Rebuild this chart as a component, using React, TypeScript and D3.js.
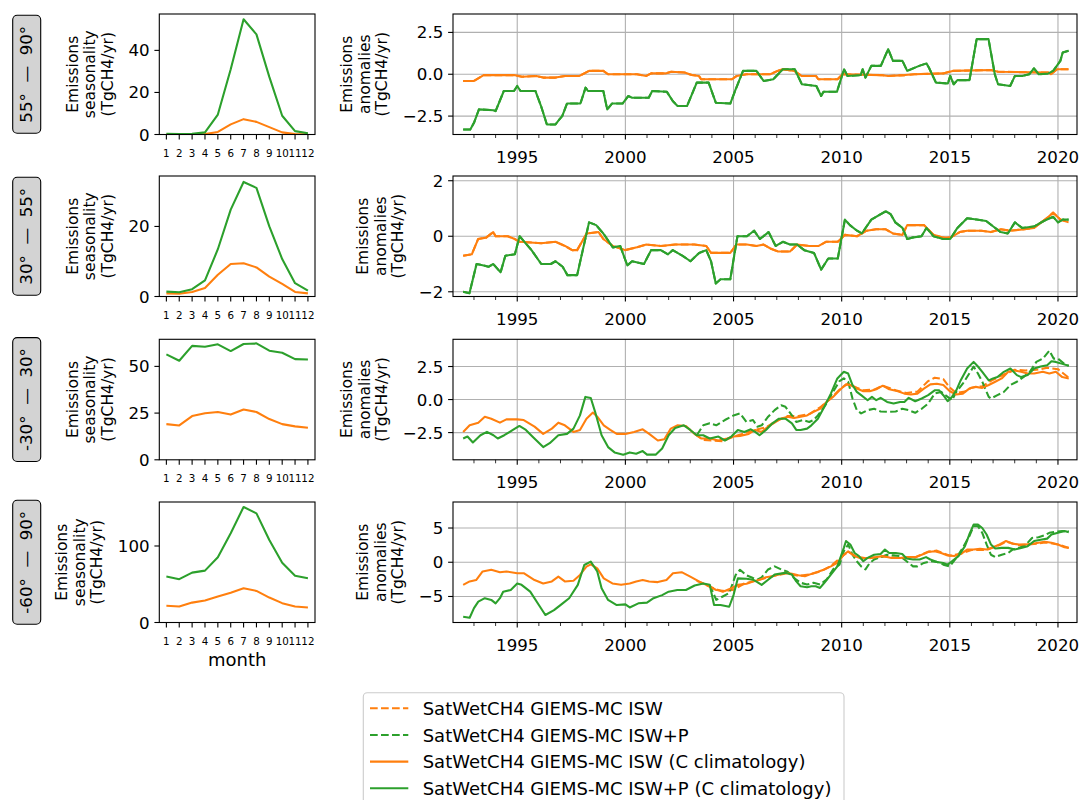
import { useEffect, useRef } from "react";
import * as d3 from "d3";

type Pt = [number, number];

const W = 1081;
const H = 800;
const ORANGE = "#ff7f0e";
const GREEN = "#2ca02c";
const FONT = "DejaVu Sans, sans-serif";

const months = [1, 2, 3, 4, 5, 6, 7, 8, 9, 10, 11, 12];

// seasonal cycles (TgCH4/yr), one per latitude band
const seasIsw_55_90 = [0, 0, 0.05, 0.2, 1.2, 4.8, 7.3, 6.0, 3.5, 1.0, 0.2, 0.1];
const seasIswp_55_90 = [0.3, 0.2, 0.3, 1.0, 9.5, 31, 54.8, 47.6, 27.4, 8.9, 1.6, 0.6];
const seasIsw_30_55 = [0.9, 0.8, 1.3, 2.4, 6.2, 9.3, 9.5, 8.3, 5.7, 3.6, 1.3, 0.9];
const seasIswp_30_55 = [1.4, 1.2, 2.1, 4.6, 13.5, 24.8, 32.7, 31, 20, 10.7, 3.8, 1.7];
const seasIsw_m30_30 = [19.1, 18.4, 23.4, 24.9, 25.6, 24.2, 26.9, 25.6, 21.8, 19.1, 17.9, 17.2];
const seasIswp_m30_30 = [56.4, 53, 61, 60.5, 61.8, 58.2, 62, 62.3, 58.4, 57.3, 53.9, 53.7];
const seasIsw_m60_90 = [21.8, 20.9, 26, 28.7, 33.9, 39, 44.8, 41.3, 32.6, 25.3, 20.9, 19.6];
const seasIswp_m60_90 = [60, 56.6, 65.2, 67.8, 85.3, 116.6, 151, 142.6, 107.8, 78.2, 61, 57.9];

// anomalies (TgCH4/yr), [decimal year, value]
const anomIswClim_55_90: Pt[] = [
  [1992.5, -0.4], [1993.0, -0.4], [1993.45, -0.05], [1994.85, -0.05], [1995.22, -0.15], [1995.88, -0.1],
  [1996.2, -0.2], [1996.77, -0.2], [1997.21, -0.1], [1997.88, -0.1], [1998.32, 0.2], [1998.98, 0.2],
  [1999.2, 0.0], [2000.53, 0.0], [2000.97, -0.1], [2001.19, 0.05], [2001.86, 0.05], [2002.12, 0.15],
  [2002.74, 0.1], [2003.07, -0.05], [2003.4, -0.1], [2003.5, -0.3], [2004.93, -0.3], [2005.15, -0.1],
  [2005.6, 0.0], [2006.7, 0.0], [2007.04, 0.2], [2007.26, 0.3], [2007.81, 0.2], [2008.14, -0.1],
  [2008.81, -0.1], [2008.92, -0.3], [2009.81, -0.3], [2010.04, 0.0], [2011.81, -0.05], [2012.15, -0.1],
  [2012.92, -0.05], [2013.36, 0.0], [2014.69, 0.05], [2015.13, 0.2], [2016.9, 0.25], [2017.23, 0.15],
  [2019.56, 0.1], [2019.67, 0.0], [2019.96, 0.3], [2020.49, 0.3],
];
const anomIswpClim_55_90: Pt[] = [
  [1992.5, -3.3], [1992.83, -3.3], [1993.0, -2.9], [1993.23, -2.1], [1993.9, -2.15], [1994.0, -2.2],
  [1994.38, -1.0], [1994.85, -1.0], [1995.0, -0.7], [1995.15, -1.0], [1995.84, -1.0], [1996.1, -1.9],
  [1996.2, -2.3], [1996.37, -3.0], [1996.77, -3.0], [1996.95, -2.7], [1997.08, -2.5], [1997.3, -1.75],
  [1997.92, -1.75], [1998.16, -0.8], [1998.27, -1.0], [1998.98, -1.0], [1999.16, -2.1], [1999.38, -1.75],
  [1999.87, -1.75], [2000.13, -1.3], [2000.31, -1.4], [2001.08, -1.4], [2001.24, -1.0], [2001.92, -1.05],
  [2002.19, -1.6], [2002.41, -1.9], [2002.85, -1.9], [2003.3, -0.5], [2003.85, -0.5], [2004.18, -1.7],
  [2004.85, -1.75], [2005.07, -1.0], [2005.44, 0.2], [2006.06, 0.2], [2006.39, -0.4], [2006.84, -0.3],
  [2007.28, 0.3], [2007.83, 0.3], [2008.16, -0.6], [2008.83, -0.7], [2009.05, -1.3], [2009.16, -1.05],
  [2009.78, -1.05], [2010.11, 0.3], [2010.27, -0.1], [2010.88, -0.05], [2010.97, 0.3], [2011.1, -0.2],
  [2011.37, 0.5], [2011.81, 0.5], [2012.15, 1.5], [2012.37, 0.8], [2012.81, 0.8], [2013.03, 0.2],
  [2013.58, 0.5], [2013.92, 0.65], [2014.03, 0.4], [2014.36, -0.5], [2014.91, -0.55], [2015.02, -0.1],
  [2015.18, -0.6], [2015.35, -0.35], [2015.91, -0.35], [2016.24, 2.1], [2016.79, 2.1], [2017.08, 0.0],
  [2017.23, -0.6], [2017.79, -0.7], [2018.01, -0.1], [2018.35, -0.1], [2018.67, 0.0], [2018.89, 0.35],
  [2019.11, 0.0], [2019.56, 0.05], [2019.78, 0.2], [2020.11, 0.8], [2020.22, 1.3], [2020.49, 1.4],
];

const anomIswClim_30_55: Pt[] = [
  [1992.5, -0.7], [1992.9, -0.65], [1993.19, -0.1], [1993.56, -0.05], [1993.89, 0.15], [1994.0, 0.0],
  [1994.56, 0.0], [1994.89, -0.1], [1995.11, -0.2], [1996.11, -0.25], [1996.77, -0.2], [1997.21, -0.35],
  [1997.54, -0.5], [1997.77, -0.5], [1998.21, 0.1], [1998.76, 0.15], [1998.98, -0.1], [1999.42, -0.35],
  [1999.98, -0.5], [2000.53, -0.4], [2000.97, -0.3], [2001.64, -0.35], [2002.3, -0.3], [2003.19, -0.3],
  [2003.74, -0.35], [2003.96, -0.6], [2004.85, -0.6], [2005.13, -0.3], [2005.62, -0.3], [2006.06, -0.35],
  [2006.39, -0.3], [2006.73, -0.45], [2007.06, -0.55], [2007.61, -0.55], [2007.94, -0.3], [2008.5, -0.35],
  [2008.94, -0.35], [2009.27, -0.2], [2009.82, -0.2], [2010.15, 0.05], [2010.71, 0.0], [2011.15, 0.2],
  [2011.59, 0.25], [2012.04, 0.25], [2012.37, 0.1], [2012.81, 0.05], [2013.03, 0.4], [2013.81, 0.4],
  [2014.25, 0.05], [2014.69, -0.05], [2015.02, -0.05], [2015.46, 0.15], [2015.8, 0.2], [2016.46, 0.2],
  [2016.9, 0.15], [2017.35, 0.25], [2017.79, 0.2], [2018.45, 0.25], [2018.89, 0.3], [2019.23, 0.5],
  [2019.56, 0.7], [2019.78, 0.85], [2020.11, 0.6], [2020.49, 0.5],
];
const anomIswpClim_30_55: Pt[] = [
  [1992.5, -2.0], [1992.79, -2.05], [1993.12, -1.0], [1993.45, -1.05], [1993.67, -1.1], [1993.89, -1.0],
  [1994.23, -1.3], [1994.45, -0.7], [1994.89, -0.65], [1995.11, 0.0], [1995.33, -0.2], [1995.66, -0.5],
  [1996.11, -1.0], [1996.55, -1.0], [1996.77, -0.9], [1997.1, -1.1], [1997.32, -1.4], [1997.77, -1.4],
  [1998.32, 0.5], [1998.65, 0.4], [1998.98, 0.1], [1999.42, -0.4], [1999.76, -0.35], [2000.09, -1.05],
  [2000.31, -0.9], [2000.86, -1.0], [2001.19, -0.5], [2001.64, -0.5], [2001.97, -0.65], [2002.19, -0.5],
  [2002.63, -0.7], [2003.01, -0.9], [2003.41, -0.6], [2003.74, -0.5], [2003.96, -0.9], [2004.18, -1.7],
  [2004.4, -1.55], [2004.85, -1.55], [2005.18, 0.0], [2005.62, 0.0], [2005.95, 0.2], [2006.22, -0.1],
  [2006.62, 0.15], [2006.95, -0.35], [2007.28, -0.2], [2007.61, -0.3], [2007.94, -0.3], [2008.27, -0.5],
  [2008.72, -0.6], [2009.05, -1.2], [2009.38, -0.8], [2009.82, -0.8], [2010.15, 0.6], [2010.38, 0.4],
  [2010.71, 0.2], [2010.93, 0.1], [2011.37, 0.6], [2012.04, 0.9], [2012.26, 0.8], [2012.48, 0.5],
  [2012.81, 0.3], [2013.03, -0.1], [2013.25, -0.05], [2013.69, 0.0], [2013.92, 0.3], [2014.25, 0.0],
  [2014.69, -0.1], [2015.02, -0.1], [2015.35, 0.3], [2015.8, 0.65], [2016.24, 0.6], [2016.68, 0.55],
  [2017.01, 0.35], [2017.35, 0.15], [2017.68, 0.1], [2018.01, 0.5], [2018.34, 0.3], [2018.89, 0.35],
  [2019.34, 0.55], [2019.78, 0.7], [2020.0, 0.5], [2020.22, 0.6], [2020.49, 0.6],
];

const anomIswClim_m30_30: Pt[] = [
  [1992.5, -2.45], [1992.8, -1.95], [1993.2, -1.75], [1993.5, -1.3], [1993.8, -1.45], [1994.2, -1.75],
  [1994.5, -1.5], [1995.0, -1.5], [1995.3, -1.55], [1995.8, -2.05], [1996.2, -2.6], [1996.6, -2.2],
  [1996.9, -1.75], [1997.2, -1.95], [1997.6, -2.45], [1997.9, -2.3], [1998.2, -1.45], [1998.5, -0.98],
  [1998.7, -1.3], [1999.0, -1.95], [1999.3, -2.3], [1999.6, -2.6], [2000.0, -2.6], [2000.4, -2.45],
  [2000.8, -2.25], [2001.1, -2.6], [2001.5, -3.1], [2001.8, -3.0], [2002.1, -2.2], [2002.4, -1.95],
  [2002.8, -2.0], [2003.2, -2.6], [2003.5, -2.95], [2003.9, -2.95], [2004.3, -3.1], [2004.7, -2.95],
  [2005.0, -2.8], [2005.3, -2.75], [2005.7, -2.6], [2006.0, -2.3], [2006.3, -2.45], [2006.6, -2.05],
  [2006.9, -1.75], [2007.2, -1.45], [2007.5, -1.3], [2007.8, -1.4], [2008.1, -1.3], [2008.4, -1.2],
  [2008.7, -0.93], [2009.0, -0.7], [2009.3, -0.18], [2009.6, 0.2], [2009.9, 0.7], [2010.2, 1.15],
  [2010.4, 1.1], [2010.7, 0.83], [2011.0, 0.63], [2011.3, 0.63], [2011.6, 0.78], [2011.9, 1.05],
  [2012.2, 0.78], [2012.6, 0.63], [2012.9, 0.45], [2013.2, 0.38], [2013.5, 0.45], [2013.8, 0.83],
  [2014.1, 1.15], [2014.4, 1.2], [2014.7, 1.1], [2015.0, 0.63], [2015.3, 0.38], [2015.6, 0.45],
  [2015.9, 0.83], [2016.2, 0.96], [2016.5, 0.88], [2016.8, 1.1], [2017.1, 1.35], [2017.4, 1.6],
  [2017.7, 2.1], [2018.0, 2.2], [2018.3, 2.1], [2018.6, 1.97], [2018.9, 1.97], [2019.3, 2.1],
  [2019.6, 1.97], [2019.9, 2.1], [2020.2, 1.7], [2020.5, 1.6],
];
const anomIswpClim_m30_30: Pt[] = [
  [1992.5, -2.95], [1992.7, -2.8], [1992.95, -3.25], [1993.3, -2.7], [1993.6, -2.45], [1993.9, -2.7],
  [1994.1, -2.95], [1994.4, -2.7], [1994.8, -2.3], [1995.1, -2.0], [1995.4, -2.3], [1995.7, -2.8],
  [1996.2, -3.6], [1996.5, -3.3], [1996.9, -2.7], [1997.3, -2.6], [1997.6, -2.2], [1997.9, -1.2],
  [1998.15, 0.2], [1998.4, 0.12], [1998.6, -0.93], [1998.9, -2.7], [1999.2, -3.6], [1999.5, -4.0],
  [1999.9, -4.17], [2000.2, -4.0], [2000.5, -4.1], [2000.8, -3.9], [2001.0, -4.17], [2001.4, -4.17],
  [2001.7, -3.7], [2002.0, -2.7], [2002.3, -2.15], [2002.7, -1.95], [2003.0, -2.3], [2003.3, -2.7],
  [2003.6, -2.7], [2003.9, -2.95], [2004.3, -2.8], [2004.6, -3.1], [2004.9, -2.8], [2005.2, -2.3],
  [2005.5, -2.45], [2005.8, -2.25], [2006.0, -2.45], [2006.2, -2.7], [2006.5, -2.3], [2006.8, -1.8],
  [2007.1, -1.45], [2007.4, -1.45], [2007.7, -1.8], [2007.9, -2.3], [2008.1, -2.3], [2008.4, -2.2],
  [2008.6, -1.95], [2008.9, -1.45], [2009.2, -0.55], [2009.5, 0.45], [2009.8, 1.6], [2010.1, 2.1],
  [2010.3, 1.97], [2010.5, 1.1], [2010.7, 0.58], [2010.9, 0.33], [2011.2, -0.05], [2011.4, 0.2],
  [2011.6, -0.05], [2011.8, 0.13], [2012.1, -0.18], [2012.4, -0.3], [2012.7, -0.18], [2012.9, -0.18],
  [2013.1, 0.13], [2013.4, -0.13], [2013.7, 0.08], [2014.0, 0.33], [2014.3, 0.7], [2014.5, 0.7],
  [2014.7, 0.33], [2014.9, -0.13], [2015.1, 0.2], [2015.3, 0.7], [2015.5, 1.45], [2015.8, 2.35],
  [2016.1, 2.85], [2016.3, 2.5], [2016.5, 2.1], [2016.8, 1.45], [2017.0, 1.6], [2017.2, 1.7],
  [2017.5, 2.1], [2017.8, 2.35], [2018.1, 1.85], [2018.3, 1.7], [2018.6, 1.85], [2018.9, 2.35],
  [2019.2, 2.5], [2019.5, 2.6], [2019.7, 2.9], [2019.9, 2.85], [2020.2, 2.7], [2020.5, 2.55],
];
const anomIsw_m30_30: Pt[] = [
  [2003.2, -2.6], [2003.6, -3.05], [2004.0, -3.1], [2004.5, -3.15], [2005.0, -2.8], [2005.5, -2.55],
  [2006.0, -2.3], [2006.5, -2.1], [2007.0, -1.6], [2007.5, -1.25], [2008.0, -1.25], [2008.5, -1.1],
  [2009.0, -0.6], [2009.5, 0.1], [2010.0, 0.9], [2010.3, 1.2], [2010.7, 0.9], [2011.0, 0.7],
  [2011.5, 0.75], [2011.9, 1.05], [2012.5, 0.7], [2013.0, 0.5], [2013.5, 0.6], [2014.0, 1.4],
  [2014.3, 1.65], [2014.7, 1.55], [2015.0, 0.9], [2015.3, 0.5], [2015.7, 0.6], [2016.0, 0.9],
  [2016.5, 1.0], [2017.0, 1.5], [2017.5, 1.9], [2018.0, 2.25], [2018.5, 2.2], [2019.0, 2.25],
  [2019.5, 2.4], [2020.0, 2.3], [2020.5, 1.65],
];
const anomIswp_m30_30: Pt[] = [
  [2003.3, -2.7], [2003.6, -1.95], [2003.9, -1.8], [2004.2, -1.95], [2004.6, -1.55], [2005.0, -1.2],
  [2005.3, -1.05], [2005.6, -1.7], [2005.9, -1.55], [2006.1, -2.05], [2006.3, -1.95], [2006.6, -1.3],
  [2006.9, -0.8], [2007.2, -0.43], [2007.4, -0.55], [2007.7, -1.2], [2007.9, -1.7], [2008.2, -1.55],
  [2008.5, -1.7], [2008.7, -1.55], [2008.9, -1.2], [2009.3, -0.3], [2009.6, 0.58], [2009.9, 1.4],
  [2010.1, 1.6], [2010.3, 1.35], [2010.5, 0.08], [2010.7, -0.8], [2010.9, -1.05], [2011.2, -0.8],
  [2011.5, -0.7], [2011.8, -0.9], [2012.1, -0.93], [2012.5, -0.9], [2012.8, -0.7], [2013.1, -0.8],
  [2013.4, -1.0], [2013.7, -0.7], [2014.0, -0.3], [2014.3, 0.45], [2014.6, 0.58], [2014.9, 0.2],
  [2015.1, -0.05], [2015.3, 0.58], [2015.6, 1.2], [2015.9, 1.97], [2016.1, 2.5], [2016.3, 1.97],
  [2016.5, 1.35], [2016.8, 0.2], [2016.9, 0.08], [2017.2, 0.33], [2017.5, 0.58], [2017.8, 1.1],
  [2018.1, 1.35], [2018.4, 1.7], [2018.7, 2.1], [2019.0, 2.85], [2019.3, 3.1], [2019.6, 3.7],
  [2019.8, 3.1], [2020.0, 3.1], [2020.3, 2.7], [2020.5, 2.55],
];

const anomIswClim_m60_90: Pt[] = [
  [1992.5, -3.3], [1992.8, -2.8], [1993.1, -2.6], [1993.4, -1.35], [1993.8, -1.1], [1994.2, -1.45],
  [1994.5, -1.35], [1995.0, -1.6], [1995.3, -1.6], [1995.8, -2.6], [1996.2, -3.1], [1996.6, -2.8],
  [1996.9, -2.1], [1997.2, -2.8], [1997.6, -2.7], [1997.9, -1.85], [1998.2, -0.65], [1998.4, -0.3],
  [1998.7, -0.9], [1999.0, -2.35], [1999.4, -3.1], [1999.8, -3.3], [2000.2, -3.1], [2000.5, -2.8],
  [2000.8, -2.6], [2001.1, -2.8], [2001.5, -2.9], [2001.9, -2.6], [2002.2, -1.6], [2002.6, -1.45],
  [2003.0, -2.1], [2003.4, -2.8], [2003.8, -3.4], [2004.2, -4.05], [2004.6, -4.2], [2004.9, -3.8],
  [2005.2, -3.3], [2005.6, -3.15], [2005.9, -2.8], [2006.2, -2.55], [2006.5, -2.2], [2006.8, -2.05],
  [2007.1, -1.8], [2007.4, -1.55], [2007.7, -1.7], [2008.0, -1.9], [2008.3, -2.05], [2008.6, -1.7],
  [2008.9, -1.4], [2009.2, -1.05], [2009.5, -0.6], [2009.8, -0.1], [2010.1, 1.1], [2010.3, 1.6],
  [2010.6, 0.9], [2010.9, 0.55], [2011.2, 0.63], [2011.6, 0.75], [2011.9, 0.9], [2012.3, 0.63],
  [2012.7, 0.63], [2013.0, 0.75], [2013.4, 0.75], [2013.7, 1.1], [2014.0, 1.5], [2014.3, 1.6],
  [2014.6, 1.35], [2014.9, 1.0], [2015.2, 0.9], [2015.5, 1.2], [2015.8, 1.85], [2016.1, 1.85],
  [2016.4, 1.95], [2016.7, 1.85], [2017.0, 2.2], [2017.3, 2.6], [2017.6, 3.1], [2017.9, 2.7],
  [2018.2, 2.6], [2018.5, 2.6], [2018.8, 2.7], [2019.1, 2.85], [2019.4, 3.0], [2019.7, 2.85],
  [2020.0, 2.6], [2020.3, 2.2], [2020.5, 2.1],
];
const anomIswpClim_m60_90: Pt[] = [
  [1992.5, -7.95], [1992.8, -8.1], [1993.0, -6.7], [1993.2, -5.75], [1993.5, -5.25], [1993.8, -5.5],
  [1994.0, -6.0], [1994.2, -5.25], [1994.35, -4.3], [1994.7, -4.05], [1995.0, -3.1], [1995.2, -3.3],
  [1995.6, -4.3], [1996.0, -6.25], [1996.3, -7.7], [1996.7, -7.0], [1997.1, -6.0], [1997.4, -5.25],
  [1997.8, -3.3], [1998.1, -0.4], [1998.4, 0.1], [1998.7, -1.35], [1998.9, -3.8], [1999.2, -5.5],
  [1999.6, -6.25], [2000.0, -6.15], [2000.2, -6.6], [2000.6, -6.0], [2001.0, -5.9], [2001.3, -5.25],
  [2001.7, -4.8], [2002.0, -4.3], [2002.4, -4.05], [2002.8, -4.05], [2003.2, -3.4], [2003.6, -3.1],
  [2003.9, -3.3], [2004.1, -6.25], [2004.4, -6.25], [2004.8, -6.5], [2005.0, -4.8], [2005.2, -2.35],
  [2005.6, -2.4], [2005.9, -2.55], [2006.1, -2.9], [2006.3, -3.3], [2006.6, -2.55], [2006.9, -1.8],
  [2007.1, -1.7], [2007.4, -1.55], [2007.7, -1.8], [2007.9, -2.8], [2008.1, -3.5], [2008.4, -3.65],
  [2008.6, -3.5], [2008.8, -3.5], [2009.0, -3.75], [2009.2, -3.0], [2009.5, -1.8], [2009.8, -0.6],
  [2010.1, 2.1], [2010.2, 3.1], [2010.4, 2.6], [2010.6, 1.35], [2010.8, 0.9], [2011.0, 0.15],
  [2011.2, 0.63], [2011.5, 1.1], [2011.8, 1.2], [2012.0, 1.85], [2012.2, 1.35], [2012.5, 1.35],
  [2012.8, 1.2], [2013.0, 0.55], [2013.3, 0.4], [2013.6, 0.4], [2013.9, 0.75], [2014.1, 0.4],
  [2014.4, 0.05], [2014.7, -0.1], [2014.9, -0.35], [2015.1, 0.15], [2015.4, 0.9], [2015.7, 2.35],
  [2015.9, 4.05], [2016.1, 5.5], [2016.3, 5.5], [2016.5, 5.0], [2016.7, 4.05], [2016.9, 2.6],
  [2017.1, 2.0], [2017.4, 2.1], [2017.7, 2.1], [2018.0, 1.85], [2018.3, 2.1], [2018.6, 2.35],
  [2018.9, 3.1], [2019.2, 3.3], [2019.5, 3.45], [2019.7, 4.05], [2020.0, 4.3], [2020.3, 4.55],
  [2020.5, 4.4],
];
const anomIsw_m60_90: Pt[] = [
  [2003.3, -2.7], [2004.0, -3.7], [2004.5, -4.3], [2005.0, -4.0], [2005.5, -3.1], [2006.0, -2.7],
  [2006.5, -2.3], [2007.0, -1.9], [2007.5, -1.6], [2008.0, -2.0], [2008.5, -1.8], [2009.0, -1.35],
  [2009.5, -0.55], [2010.0, 0.8], [2010.3, 1.55], [2010.7, 0.8], [2011.2, 0.55], [2011.9, 0.85],
  [2012.7, 0.6], [2013.4, 0.7], [2014.0, 1.55], [2014.4, 1.7], [2015.0, 0.95], [2015.5, 1.25],
  [2016.0, 1.8], [2016.7, 1.8], [2017.3, 2.5], [2017.6, 3.0], [2018.2, 2.5], [2019.0, 2.7],
  [2019.4, 2.9], [2020.0, 2.6], [2020.5, 2.1],
];
const anomIswp_m60_90: Pt[] = [
  [2003.9, -3.3], [2004.2, -5.5], [2004.5, -5.0], [2004.8, -4.5], [2005.1, -1.85], [2005.3, -1.1],
  [2005.6, -1.9], [2005.9, -2.3], [2006.1, -2.55], [2006.3, -2.2], [2006.6, -1.05], [2006.9, -0.6],
  [2007.2, -1.05], [2007.5, -1.4], [2007.8, -2.3], [2008.1, -3.0], [2008.4, -3.25], [2008.7, -3.0],
  [2009.0, -3.25], [2009.3, -2.55], [2009.6, -1.05], [2009.9, -0.35], [2010.1, 1.6], [2010.3, 2.6],
  [2010.5, 1.1], [2010.7, 0.15], [2010.9, -0.6], [2011.1, -1.05], [2011.3, -0.1], [2011.5, 0.4],
  [2011.8, 0.75], [2012.1, 1.1], [2012.4, 1.0], [2012.7, 0.9], [2013.0, 0.15], [2013.3, -0.6],
  [2013.5, -0.6], [2013.8, -0.1], [2014.1, 0.15], [2014.4, 0.05], [2014.7, -0.35], [2015.0, -0.6],
  [2015.3, 0.63], [2015.6, 2.1], [2015.9, 3.8], [2016.1, 5.25], [2016.3, 5.25], [2016.5, 4.3],
  [2016.7, 2.6], [2016.9, 1.1], [2017.1, 0.75], [2017.4, 1.1], [2017.7, 1.35], [2017.9, 1.85],
  [2018.2, 2.1], [2018.5, 2.5], [2018.8, 3.55], [2019.1, 3.65], [2019.4, 3.95], [2019.6, 4.3],
  [2019.9, 4.45], [2020.2, 4.55], [2020.5, 4.55],
];

const bandLabels = ["55°  —  90°", "30°  —  55°", "-30°  —  30°", "-60°  —  90°"];
const seasMax = [57.3, 34.4, 64.5, 157.5];
const seasTicks = [[0, 20, 40], [0, 20], [0, 25, 50], [0, 100]];
const anomLim = [3.6, 2.17, 4.56, 8.8];
const anomTicks = [[-2.5, 0, 2.5], [-2, 0, 2], [-2.5, 0, 2.5], [-5, 0, 5]];
const anomTickLabels = [["−2.5", "0.0", "2.5"], ["−2", "0", "2"], ["−2.5", "0.0", "2.5"], ["−5", "0", "5"]];
const yearTicks = [1995, 2000, 2005, 2010, 2015, 2020];
const minorYearTicks = [1993, 1994, 1996, 1997, 1998, 1999, 2001, 2002, 2003, 2004, 2006, 2007, 2008, 2009,
  2011, 2012, 2013, 2014, 2016, 2017, 2018, 2019];

const legendLabels = [
  "SatWetCH4 GIEMS-MC ISW",
  "SatWetCH4 GIEMS-MC ISW+P",
  "SatWetCH4 GIEMS-MC ISW (C climatology)",
  "SatWetCH4 GIEMS-MC ISW+P (C climatology)",
];

const bands = [
  { seasIsw: seasIsw_55_90, seasIswp: seasIswp_55_90, isw: anomIswClim_55_90, iswp: anomIswpClim_55_90, iswClim: anomIswClim_55_90, iswpClim: anomIswpClim_55_90 },
  { seasIsw: seasIsw_30_55, seasIswp: seasIswp_30_55, isw: anomIswClim_30_55, iswp: anomIswpClim_30_55, iswClim: anomIswClim_30_55, iswpClim: anomIswpClim_30_55 },
  { seasIsw: seasIsw_m30_30, seasIswp: seasIswp_m30_30, isw: anomIsw_m30_30, iswp: anomIswp_m30_30, iswClim: anomIswClim_m30_30, iswpClim: anomIswpClim_m30_30 },
  { seasIsw: seasIsw_m60_90, seasIswp: seasIswp_m60_90, isw: anomIsw_m60_90, iswp: anomIswp_m60_90, iswClim: anomIswClim_m60_90, iswpClim: anomIswpClim_m60_90 },
];

const rowTops = [14, 176, 339.3, 502];
const rowH = 120.5;
const left = { x0: 159.3, x1: 315 };
const right = { x0: 453, x1: 1077 };
const TICK = 4.9;
const LW = 2.08;
const DASH = "7.7 3.3";

function App() {
  const svgRef = useRef<SVGSVGElement | null>(null);

  useEffect(() => {
    if (!svgRef.current) return;
    const svg = d3.select(svgRef.current);
    svg.selectAll("*").remove();
    svg.append("rect").attr("width", W).attr("height", H).attr("fill", "white");
    const defs = svg.append("defs");

    const xm = d3.scaleLinear().domain([0.45, 12.55]).range([left.x0, left.x1]);
    const xt = d3.scaleLinear().domain([1992.03, 2020.88]).range([right.x0, right.x1]);

    // draws the stacked, rotated y label left of the tick labels
    const yLabel = (g: d3.Selection<SVGGElement, unknown, null, undefined>, lines: string[], xLast: number, cy: number) => {
      const t = g.append("g").attr("transform", `translate(${xLast},${cy}) rotate(-90)`);
      lines.forEach((s, i) => {
        t.append("text")
          .attr("x", 0)
          .attr("y", (i - lines.length + 1) * 17.5)
          .attr("text-anchor", "middle")
          .style("font-size", "15.5px")
          .text(s);
      });
    };

    bands.forEach((b, i) => {
      const top = rowTops[i];
      const bottom = top + rowH;
      const cy = (top + bottom) / 2;
      const g = svg.append("g").style("font-family", FONT).attr("fill", "black");

      // band label box
      const lab = g.append("g").attr("transform", `translate(26.7,${cy}) rotate(-90)`);
      const txt = lab.append("text")
        .attr("x", 0).attr("y", 5)
        .attr("text-anchor", "middle")
        .style("font-size", "16.67px")
        .style("white-space", "pre")
        .text(bandLabels[i]);
      const len = (txt.node() as SVGTextElement).getComputedTextLength();
      lab.insert("rect", "text")
        .attr("x", -len / 2 - 10.5).attr("y", -14)
        .attr("width", len + 21).attr("height", 28)
        .attr("rx", 4.5)
        .attr("fill", "#d3d3d3").attr("stroke", "black").attr("stroke-width", 1.1);

      // ---------- seasonality panel ----------
      const ys = d3.scaleLinear().domain([0, seasMax[i]]).range([bottom, top]);
      const cl = `clipL${i}`;
      defs.append("clipPath").attr("id", cl).append("rect")
        .attr("x", left.x0).attr("y", top).attr("width", left.x1 - left.x0).attr("height", rowH);
      const seasLine = d3.line<number>().x((_, k) => xm(months[k])).y((d) => ys(d));
      const pl = g.append("g").attr("clip-path", `url(#${cl})`);
      pl.append("path").attr("d", seasLine(b.seasIsw)!).attr("fill", "none")
        .attr("stroke", ORANGE).attr("stroke-width", LW).attr("stroke-linejoin", "round");
      pl.append("path").attr("d", seasLine(b.seasIswp)!).attr("fill", "none")
        .attr("stroke", GREEN).attr("stroke-width", LW).attr("stroke-linejoin", "round");
      g.append("rect").attr("x", left.x0).attr("y", top).attr("width", left.x1 - left.x0).attr("height", rowH)
        .attr("fill", "none").attr("stroke", "black").attr("stroke-width", 1.1);

      let maxW = 0;
      seasTicks[i].forEach((v) => {
        g.append("line").attr("x1", left.x0 - TICK).attr("x2", left.x0).attr("y1", ys(v)).attr("y2", ys(v))
          .attr("stroke", "black").attr("stroke-width", 1.1);
        const t = g.append("text").attr("x", left.x0 - 9.7).attr("y", ys(v) + 6)
          .attr("text-anchor", "end").style("font-size", "16.67px").text(String(v));
        maxW = Math.max(maxW, (t.node() as SVGTextElement).getComputedTextLength());
      });
      months.forEach((m) => {
        g.append("line").attr("x1", xm(m)).attr("x2", xm(m)).attr("y1", bottom).attr("y2", bottom + TICK)
          .attr("stroke", "black").attr("stroke-width", 1.1);
        g.append("text").attr("x", xm(m)).attr("y", bottom + 22)
          .attr("text-anchor", "middle").style("font-size", "10.3px").text(String(m));
      });
      yLabel(g, ["Emissions", "seasonality", "(TgCH4/yr)"], left.x0 - 9.7 - maxW - 15.5, cy);
      if (i === bands.length - 1) {
        g.append("text").attr("x", (left.x0 + left.x1) / 2).attr("y", bottom + 43.5)
          .attr("text-anchor", "middle").style("font-size", "18px").text("month");
      }

      // ---------- anomalies panel ----------
      const ya = d3.scaleLinear().domain([-anomLim[i], anomLim[i]]).range([bottom, top]);
      const grid = g.append("g").attr("stroke", "#b0b0b0").attr("stroke-width", 1.1);
      yearTicks.forEach((yr) => {
        grid.append("line").attr("x1", xt(yr)).attr("x2", xt(yr)).attr("y1", top).attr("y2", bottom);
      });
      anomTicks[i].forEach((v) => {
        grid.append("line").attr("x1", right.x0).attr("x2", right.x1).attr("y1", ya(v)).attr("y2", ya(v));
      });
      const cr = `clipR${i}`;
      defs.append("clipPath").attr("id", cr).append("rect")
        .attr("x", right.x0).attr("y", top).attr("width", right.x1 - right.x0).attr("height", rowH);
      const line = d3.line<Pt>().x((d) => xt(d[0])).y((d) => ya(d[1]));
      const pr = g.append("g").attr("clip-path", `url(#${cr})`).attr("fill", "none")
        .attr("stroke-width", LW).attr("stroke-linejoin", "round");
      pr.append("path").attr("d", line(b.isw)!).attr("stroke", ORANGE).attr("stroke-dasharray", DASH);
      pr.append("path").attr("d", line(b.iswp)!).attr("stroke", GREEN).attr("stroke-dasharray", DASH);
      pr.append("path").attr("d", line(b.iswClim)!).attr("stroke", ORANGE);
      pr.append("path").attr("d", line(b.iswpClim)!).attr("stroke", GREEN);
      g.append("rect").attr("x", right.x0).attr("y", top).attr("width", right.x1 - right.x0).attr("height", rowH)
        .attr("fill", "none").attr("stroke", "black").attr("stroke-width", 1.1);

      let maxA = 0;
      anomTicks[i].forEach((v, k) => {
        g.append("line").attr("x1", right.x0 - TICK).attr("x2", right.x0).attr("y1", ya(v)).attr("y2", ya(v))
          .attr("stroke", "black").attr("stroke-width", 1.1);
        const t = g.append("text").attr("x", right.x0 - 9.7).attr("y", ya(v) + 6)
          .attr("text-anchor", "end").style("font-size", "16.67px").text(anomTickLabels[i][k]);
        maxA = Math.max(maxA, (t.node() as SVGTextElement).getComputedTextLength());
      });
      yearTicks.forEach((yr) => {
        g.append("line").attr("x1", xt(yr)).attr("x2", xt(yr)).attr("y1", bottom).attr("y2", bottom + TICK)
          .attr("stroke", "black").attr("stroke-width", 1.1);
        g.append("text").attr("x", xt(yr)).attr("y", bottom + 28)
          .attr("text-anchor", "middle").style("font-size", "16.67px").text(String(yr));
      });
      minorYearTicks.forEach((yr) => {
        g.append("line").attr("x1", xt(yr)).attr("x2", xt(yr)).attr("y1", bottom).attr("y2", bottom + 3.5)
          .attr("stroke", "black").attr("stroke-width", 0.8);
      });
      yLabel(g, ["Emissions", "anomalies", "(TgCH4/yr)"], right.x0 - 9.7 - maxA - 15.5, cy);
    });

    // ---------- legend ----------
    const lg = svg.append("g").style("font-family", FONT);
    lg.append("rect").attr("x", 363.3).attr("y", 692.7).attr("width", 480.7).attr("height", 112)
      .attr("rx", 4).attr("fill", "white").attr("stroke", "#cccccc").attr("stroke-width", 1.1);
    const legColors = [ORANGE, GREEN, ORANGE, GREEN];
    const legDash = [DASH, DASH, null, null];
    const legY = d3.scaleLinear().domain([0, 3]).range([708.3, 788.3]);
    legendLabels.forEach((s, k) => {
      const y = legY(k);
      const ln = lg.append("line").attr("x1", 370).attr("x2", 408.3).attr("y1", y).attr("y2", y)
        .attr("stroke", legColors[k]).attr("stroke-width", LW);
      if (legDash[k]) ln.attr("stroke-dasharray", legDash[k]!);
      lg.append("text").attr("x", 422.7).attr("y", y + 6.6).style("font-size", "18px").text(s);
    });
  }, []);

  return (
    <svg
      ref={svgRef}
      width={W}
      height={H}
      style={{ position: "absolute", left: 0, top: 0, display: "block" }}
    />
  );
}

export default App;
